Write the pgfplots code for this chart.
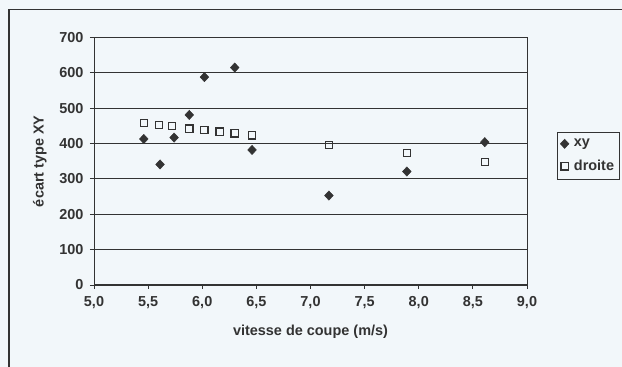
\documentclass[border=0pt]{standalone}
\usepackage{pgfplots}
\pgfplotsset{compat=1.18}
\usepackage{fontspec}
\setmainfont{Liberation Sans}

\definecolor{paper}{HTML}{F2F7FA}
\definecolor{ink}{HTML}{333333}

\begin{document}
\begin{tikzpicture}

	% background and the chart frame (cut by the page edge on right and bottom)
	\fill[paper] (0bp,0bp) rectangle (622bp,367bp);
	\draw[ink, line width=1.2bp] (9bp,-10bp) -- (9bp,357.5bp) -- (640bp,357.5bp);

	\begin{axis}[
		at				= {(94bp,82bp)},
		anchor			= south west,
		scale only axis,
		width			= 433bp,
		height			= 247.5bp,
		xmin			= 5, xmax = 9,
		ymin			= 0, ymax = 700,
		xtick			= {5,5.5,...,9},
		ytick			= {0,100,...,700},
		axis line style	= {ink, line width=1bp},
		ymajorgrids,
		major grid style = {ink, line width=0.9bp},
		tick style		= {ink, line width=0.9bp},
		tick align		= outside,
		major tick length = 4bp,
		xtick pos		= bottom,
		ytick pos		= left,
		tick label style = {font=\fontsize{14.5}{16}\selectfont\bfseries, text=ink},
		label style		= {font=\fontsize{14.5}{16}\selectfont\bfseries, text=ink},
		/pgf/number format/assume math mode=true,
		xticklabel style = {yshift=-4bp, /pgf/number format/.cd, fixed, fixed zerofill, precision=1, use comma},
		yticklabel style = {xshift=-3bp, /pgf/number format/.cd, fixed, precision=0},
		xlabel			= {vitesse de coupe (m/s)},
		ylabel			= {écart type XY},
		xlabel style	= {yshift=-9bp},
		ylabel style	= {yshift=6bp},
		legend style	= {at={(1.069,0.619)}, anchor=north west, draw=ink, line width=0.9bp,
						   fill=paper, font=\fontsize{14.5}{16}\selectfont\bfseries, text=ink,
						   inner xsep=3bp, inner ysep=5bp, row sep=8bp,
						   /tikz/every odd column/.append style={column sep=3bp}},
		legend cell align = left,
	]

		\addplot[only marks, mark=diamond*, mark size=4.6bp, mark options={xscale=1.25, fill=ink, draw=ink, line width=0.5bp}]
		coordinates {
			(5.46,413) (5.61,341) (5.74,417) (5.88,481) (6.02,588) (6.30,615)
			(6.46,382) (7.17,253) (7.89,321) (8.61,404)
		};
		\addlegendentry{xy}

		\addplot[only marks, mark=square, mark size=3.6bp, mark options={draw=ink, line width=1.3bp}]
		coordinates {
			(5.46,458) (5.60,453) (5.72,450) (5.88,442) (6.02,439) (6.16,434)
			(6.30,429) (6.46,423) (7.17,396) (7.89,374) (8.61,348)
		};
		\addlegendentry{droite}

		% right border of the plot area
		\draw[ink, line width=1bp] (axis cs:9,0) -- (axis cs:9,700);

	\end{axis}

	\pgfresetboundingbox
	\useasboundingbox (0bp,0bp) rectangle (622bp,367bp);

\end{tikzpicture}
\end{document}
